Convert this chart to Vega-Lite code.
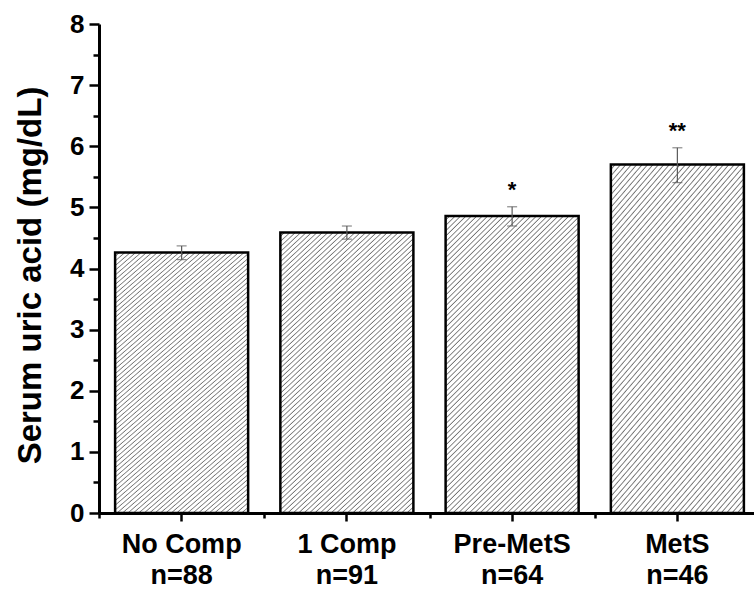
{
  "$schema": "https://vega.github.io/schema/vega-lite/v6.json",
  "width": 655,
  "height": 489,
  "autosize": {"type": "none"},
  "padding": {"left": 99, "top": 24, "right": 0, "bottom": 77},
  "background": "white",
  "config": {"view": {"stroke": null}, "font": "Liberation Sans"},
  "data": {
    "values": [
      {"group": "No Comp|n=88", "mean": 4.26, "lo": 4.145, "hi": 4.37, "sig": ""},
      {"group": "1 Comp|n=91", "mean": 4.59, "lo": 4.48, "hi": 4.695, "sig": ""},
      {"group": "Pre-MetS|n=64", "mean": 4.86, "lo": 4.695, "hi": 5.01, "sig": "*"},
      {"group": "MetS|n=46", "mean": 5.70, "lo": 5.405, "hi": 5.975, "sig": "**"}
    ]
  },
  "resolve": {"axis": {"x": "independent", "y": "independent"}},
  "layer": [
    {
      "mark": {
        "type": "bar", "stroke": "black", "strokeWidth": 2.5,
        "fill": {
          "gradient": "linear", "x1": 0, "y1": 0, "x2": 0.5345, "y2": 1.2065,
          "stops": [
            {"offset": 0, "color": "#ffffff"}, {"offset": 0.0069, "color": "#ffffff"}, {"offset": 0.01, "color": "#747474"},
            {"offset": 0.0125, "color": "#ffffff"}, {"offset": 0.0194, "color": "#ffffff"}, {"offset": 0.0225, "color": "#747474"},
            {"offset": 0.025, "color": "#ffffff"}, {"offset": 0.0319, "color": "#ffffff"}, {"offset": 0.035, "color": "#747474"},
            {"offset": 0.0375, "color": "#ffffff"}, {"offset": 0.0444, "color": "#ffffff"}, {"offset": 0.0475, "color": "#747474"},
            {"offset": 0.05, "color": "#ffffff"}, {"offset": 0.0569, "color": "#ffffff"}, {"offset": 0.06, "color": "#747474"},
            {"offset": 0.0625, "color": "#ffffff"}, {"offset": 0.0694, "color": "#ffffff"}, {"offset": 0.0725, "color": "#747474"},
            {"offset": 0.075, "color": "#ffffff"}, {"offset": 0.0819, "color": "#ffffff"}, {"offset": 0.085, "color": "#747474"},
            {"offset": 0.0875, "color": "#ffffff"}, {"offset": 0.0944, "color": "#ffffff"}, {"offset": 0.0975, "color": "#747474"},
            {"offset": 0.1, "color": "#ffffff"}, {"offset": 0.1069, "color": "#ffffff"}, {"offset": 0.11, "color": "#747474"},
            {"offset": 0.1125, "color": "#ffffff"}, {"offset": 0.1194, "color": "#ffffff"}, {"offset": 0.1225, "color": "#747474"},
            {"offset": 0.125, "color": "#ffffff"}, {"offset": 0.1319, "color": "#ffffff"}, {"offset": 0.135, "color": "#747474"},
            {"offset": 0.1375, "color": "#ffffff"}, {"offset": 0.1444, "color": "#ffffff"}, {"offset": 0.1475, "color": "#747474"},
            {"offset": 0.15, "color": "#ffffff"}, {"offset": 0.1569, "color": "#ffffff"}, {"offset": 0.16, "color": "#747474"},
            {"offset": 0.1625, "color": "#ffffff"}, {"offset": 0.1694, "color": "#ffffff"}, {"offset": 0.1725, "color": "#747474"},
            {"offset": 0.175, "color": "#ffffff"}, {"offset": 0.1819, "color": "#ffffff"}, {"offset": 0.185, "color": "#747474"},
            {"offset": 0.1875, "color": "#ffffff"}, {"offset": 0.1944, "color": "#ffffff"}, {"offset": 0.1975, "color": "#747474"},
            {"offset": 0.2, "color": "#ffffff"}, {"offset": 0.2069, "color": "#ffffff"}, {"offset": 0.21, "color": "#747474"},
            {"offset": 0.2125, "color": "#ffffff"}, {"offset": 0.2194, "color": "#ffffff"}, {"offset": 0.2225, "color": "#747474"},
            {"offset": 0.225, "color": "#ffffff"}, {"offset": 0.2319, "color": "#ffffff"}, {"offset": 0.235, "color": "#747474"},
            {"offset": 0.2375, "color": "#ffffff"}, {"offset": 0.2444, "color": "#ffffff"}, {"offset": 0.2475, "color": "#747474"},
            {"offset": 0.25, "color": "#ffffff"}, {"offset": 0.2569, "color": "#ffffff"}, {"offset": 0.26, "color": "#747474"},
            {"offset": 0.2625, "color": "#ffffff"}, {"offset": 0.2694, "color": "#ffffff"}, {"offset": 0.2725, "color": "#747474"},
            {"offset": 0.275, "color": "#ffffff"}, {"offset": 0.2819, "color": "#ffffff"}, {"offset": 0.285, "color": "#747474"},
            {"offset": 0.2875, "color": "#ffffff"}, {"offset": 0.2944, "color": "#ffffff"}, {"offset": 0.2975, "color": "#747474"},
            {"offset": 0.3, "color": "#ffffff"}, {"offset": 0.3069, "color": "#ffffff"}, {"offset": 0.31, "color": "#747474"},
            {"offset": 0.3125, "color": "#ffffff"}, {"offset": 0.3194, "color": "#ffffff"}, {"offset": 0.3225, "color": "#747474"},
            {"offset": 0.325, "color": "#ffffff"}, {"offset": 0.3319, "color": "#ffffff"}, {"offset": 0.335, "color": "#747474"},
            {"offset": 0.3375, "color": "#ffffff"}, {"offset": 0.3444, "color": "#ffffff"}, {"offset": 0.3475, "color": "#747474"},
            {"offset": 0.35, "color": "#ffffff"}, {"offset": 0.3569, "color": "#ffffff"}, {"offset": 0.36, "color": "#747474"},
            {"offset": 0.3625, "color": "#ffffff"}, {"offset": 0.3694, "color": "#ffffff"}, {"offset": 0.3725, "color": "#747474"},
            {"offset": 0.375, "color": "#ffffff"}, {"offset": 0.3819, "color": "#ffffff"}, {"offset": 0.385, "color": "#747474"},
            {"offset": 0.3875, "color": "#ffffff"}, {"offset": 0.3944, "color": "#ffffff"}, {"offset": 0.3975, "color": "#747474"},
            {"offset": 0.4, "color": "#ffffff"}, {"offset": 0.4069, "color": "#ffffff"}, {"offset": 0.41, "color": "#747474"},
            {"offset": 0.4125, "color": "#ffffff"}, {"offset": 0.4194, "color": "#ffffff"}, {"offset": 0.4225, "color": "#747474"},
            {"offset": 0.425, "color": "#ffffff"}, {"offset": 0.4319, "color": "#ffffff"}, {"offset": 0.435, "color": "#747474"},
            {"offset": 0.4375, "color": "#ffffff"}, {"offset": 0.4444, "color": "#ffffff"}, {"offset": 0.4475, "color": "#747474"},
            {"offset": 0.45, "color": "#ffffff"}, {"offset": 0.4569, "color": "#ffffff"}, {"offset": 0.46, "color": "#747474"},
            {"offset": 0.4625, "color": "#ffffff"}, {"offset": 0.4694, "color": "#ffffff"}, {"offset": 0.4725, "color": "#747474"},
            {"offset": 0.475, "color": "#ffffff"}, {"offset": 0.4819, "color": "#ffffff"}, {"offset": 0.485, "color": "#747474"},
            {"offset": 0.4875, "color": "#ffffff"}, {"offset": 0.4944, "color": "#ffffff"}, {"offset": 0.4975, "color": "#747474"},
            {"offset": 0.5, "color": "#ffffff"}, {"offset": 0.5069, "color": "#ffffff"}, {"offset": 0.51, "color": "#747474"},
            {"offset": 0.5125, "color": "#ffffff"}, {"offset": 0.5194, "color": "#ffffff"}, {"offset": 0.5225, "color": "#747474"},
            {"offset": 0.525, "color": "#ffffff"}, {"offset": 0.5319, "color": "#ffffff"}, {"offset": 0.535, "color": "#747474"},
            {"offset": 0.5375, "color": "#ffffff"}, {"offset": 0.5444, "color": "#ffffff"}, {"offset": 0.5475, "color": "#747474"},
            {"offset": 0.55, "color": "#ffffff"}, {"offset": 0.5569, "color": "#ffffff"}, {"offset": 0.56, "color": "#747474"},
            {"offset": 0.5625, "color": "#ffffff"}, {"offset": 0.5694, "color": "#ffffff"}, {"offset": 0.5725, "color": "#747474"},
            {"offset": 0.575, "color": "#ffffff"}, {"offset": 0.5819, "color": "#ffffff"}, {"offset": 0.585, "color": "#747474"},
            {"offset": 0.5875, "color": "#ffffff"}, {"offset": 0.5944, "color": "#ffffff"}, {"offset": 0.5975, "color": "#747474"},
            {"offset": 0.6, "color": "#ffffff"}, {"offset": 0.6069, "color": "#ffffff"}, {"offset": 0.61, "color": "#747474"},
            {"offset": 0.6125, "color": "#ffffff"}, {"offset": 0.6194, "color": "#ffffff"}, {"offset": 0.6225, "color": "#747474"},
            {"offset": 0.625, "color": "#ffffff"}, {"offset": 0.6319, "color": "#ffffff"}, {"offset": 0.635, "color": "#747474"},
            {"offset": 0.6375, "color": "#ffffff"}, {"offset": 0.6444, "color": "#ffffff"}, {"offset": 0.6475, "color": "#747474"},
            {"offset": 0.65, "color": "#ffffff"}, {"offset": 0.6569, "color": "#ffffff"}, {"offset": 0.66, "color": "#747474"},
            {"offset": 0.6625, "color": "#ffffff"}, {"offset": 0.6694, "color": "#ffffff"}, {"offset": 0.6725, "color": "#747474"},
            {"offset": 0.675, "color": "#ffffff"}, {"offset": 0.6819, "color": "#ffffff"}, {"offset": 0.685, "color": "#747474"},
            {"offset": 0.6875, "color": "#ffffff"}, {"offset": 0.6944, "color": "#ffffff"}, {"offset": 0.6975, "color": "#747474"},
            {"offset": 0.7, "color": "#ffffff"}, {"offset": 0.7069, "color": "#ffffff"}, {"offset": 0.71, "color": "#747474"},
            {"offset": 0.7125, "color": "#ffffff"}, {"offset": 0.7194, "color": "#ffffff"}, {"offset": 0.7225, "color": "#747474"},
            {"offset": 0.725, "color": "#ffffff"}, {"offset": 0.7319, "color": "#ffffff"}, {"offset": 0.735, "color": "#747474"},
            {"offset": 0.7375, "color": "#ffffff"}, {"offset": 0.7444, "color": "#ffffff"}, {"offset": 0.7475, "color": "#747474"},
            {"offset": 0.75, "color": "#ffffff"}, {"offset": 0.7569, "color": "#ffffff"}, {"offset": 0.76, "color": "#747474"},
            {"offset": 0.7625, "color": "#ffffff"}, {"offset": 0.7694, "color": "#ffffff"}, {"offset": 0.7725, "color": "#747474"},
            {"offset": 0.775, "color": "#ffffff"}, {"offset": 0.7819, "color": "#ffffff"}, {"offset": 0.785, "color": "#747474"},
            {"offset": 0.7875, "color": "#ffffff"}, {"offset": 0.7944, "color": "#ffffff"}, {"offset": 0.7975, "color": "#747474"},
            {"offset": 0.8, "color": "#ffffff"}, {"offset": 0.8069, "color": "#ffffff"}, {"offset": 0.81, "color": "#747474"},
            {"offset": 0.8125, "color": "#ffffff"}, {"offset": 0.8194, "color": "#ffffff"}, {"offset": 0.8225, "color": "#747474"},
            {"offset": 0.825, "color": "#ffffff"}, {"offset": 0.8319, "color": "#ffffff"}, {"offset": 0.835, "color": "#747474"},
            {"offset": 0.8375, "color": "#ffffff"}, {"offset": 0.8444, "color": "#ffffff"}, {"offset": 0.8475, "color": "#747474"},
            {"offset": 0.85, "color": "#ffffff"}, {"offset": 0.8569, "color": "#ffffff"}, {"offset": 0.86, "color": "#747474"},
            {"offset": 0.8625, "color": "#ffffff"}, {"offset": 0.8694, "color": "#ffffff"}, {"offset": 0.8725, "color": "#747474"},
            {"offset": 0.875, "color": "#ffffff"}, {"offset": 0.8819, "color": "#ffffff"}, {"offset": 0.885, "color": "#747474"},
            {"offset": 0.8875, "color": "#ffffff"}, {"offset": 0.8944, "color": "#ffffff"}, {"offset": 0.8975, "color": "#747474"},
            {"offset": 0.9, "color": "#ffffff"}, {"offset": 0.9069, "color": "#ffffff"}, {"offset": 0.91, "color": "#747474"},
            {"offset": 0.9125, "color": "#ffffff"}, {"offset": 0.9194, "color": "#ffffff"}, {"offset": 0.9225, "color": "#747474"},
            {"offset": 0.925, "color": "#ffffff"}, {"offset": 0.9319, "color": "#ffffff"}, {"offset": 0.935, "color": "#747474"},
            {"offset": 0.9375, "color": "#ffffff"}, {"offset": 0.9444, "color": "#ffffff"}, {"offset": 0.9475, "color": "#747474"},
            {"offset": 0.95, "color": "#ffffff"}, {"offset": 0.9569, "color": "#ffffff"}, {"offset": 0.96, "color": "#747474"},
            {"offset": 0.9625, "color": "#ffffff"}, {"offset": 0.9694, "color": "#ffffff"}, {"offset": 0.9725, "color": "#747474"},
            {"offset": 0.975, "color": "#ffffff"}, {"offset": 0.9819, "color": "#ffffff"}, {"offset": 0.985, "color": "#747474"},
            {"offset": 0.9875, "color": "#ffffff"}, {"offset": 0.9944, "color": "#ffffff"}, {"offset": 0.9975, "color": "#747474"},
            {"offset": 1, "color": "#ffffff"}
          ]
        }
      },
      "encoding": {
        "x": {
          "field": "group", "type": "nominal", "sort": null,
          "scale": {"range": [0, 661], "paddingInner": 0.195, "paddingOuter": 0.0975},
          "axis": {
            "orient": "bottom", "title": null,
            "labelExpr": "split(datum.value, '|')",
            "labelAngle": 0, "labelFontSize": 27, "labelFontWeight": "bold", "labelColor": "black",
            "labelLineHeight": 31, "labelPadding": 10, "labelOverlap": false,
            "tickSize": 8, "tickWidth": 2.5, "tickColor": "black",
            "domainWidth": 3, "domainColor": "black"
          }
        },
        "y": {
          "field": "mean", "type": "quantitative",
          "scale": {"domain": [0, 8], "nice": false},
          "axis": {
            "orient": "left",
            "title": "Serum uric acid (mg/dL)",
            "values": [0, 0.5, 1, 1.5, 2, 2.5, 3, 3.5, 4, 4.5, 5, 5.5, 6, 6.5, 7, 7.5, 8],
            "labelExpr": "datum.value % 1 === 0 ? format(datum.value, 'd') : ''",
            "labelFontSize": 26, "labelFontWeight": "bold", "labelColor": "black", "labelPadding": 5,
            "tickSize": {"condition": {"test": "datum.value % 1 !== 0", "value": 6}, "value": 10},
            "tickWidth": 2.5, "tickColor": "black",
            "domainWidth": 3, "domainColor": "black", "grid": false,
            "titleFontSize": 33, "titleFontWeight": "bold", "titleColor": "black", "titlePadding": 22,
            "titleY": 251
          }
        }
      }
    },
    {
      "mark": {"type": "errorbar", "color": "#5a5a5a", "thickness": 1.2, "ticks": {"size": 10}},
      "encoding": {
        "x": {"field": "group", "type": "nominal", "sort": null, "axis": null},
        "y": {"field": "lo", "type": "quantitative", "axis": null},
        "y2": {"field": "hi"}
      }
    },
    {
      "mark": {"type": "text", "fontSize": 22, "fontWeight": "bold", "baseline": "bottom", "dy": -5, "color": "black"},
      "encoding": {
        "x": {
          "field": "group", "type": "nominal", "sort": null,
          "axis": {
            "orient": "bottom", "title": null, "labels": false, "domain": false,
            "tickSize": 5, "tickWidth": 2.5, "tickColor": "black", "tickOffset": -82.6
          }
        },
        "y": {"field": "hi", "type": "quantitative", "axis": null},
        "text": {"field": "sig"}
      }
    }
  ]
}
